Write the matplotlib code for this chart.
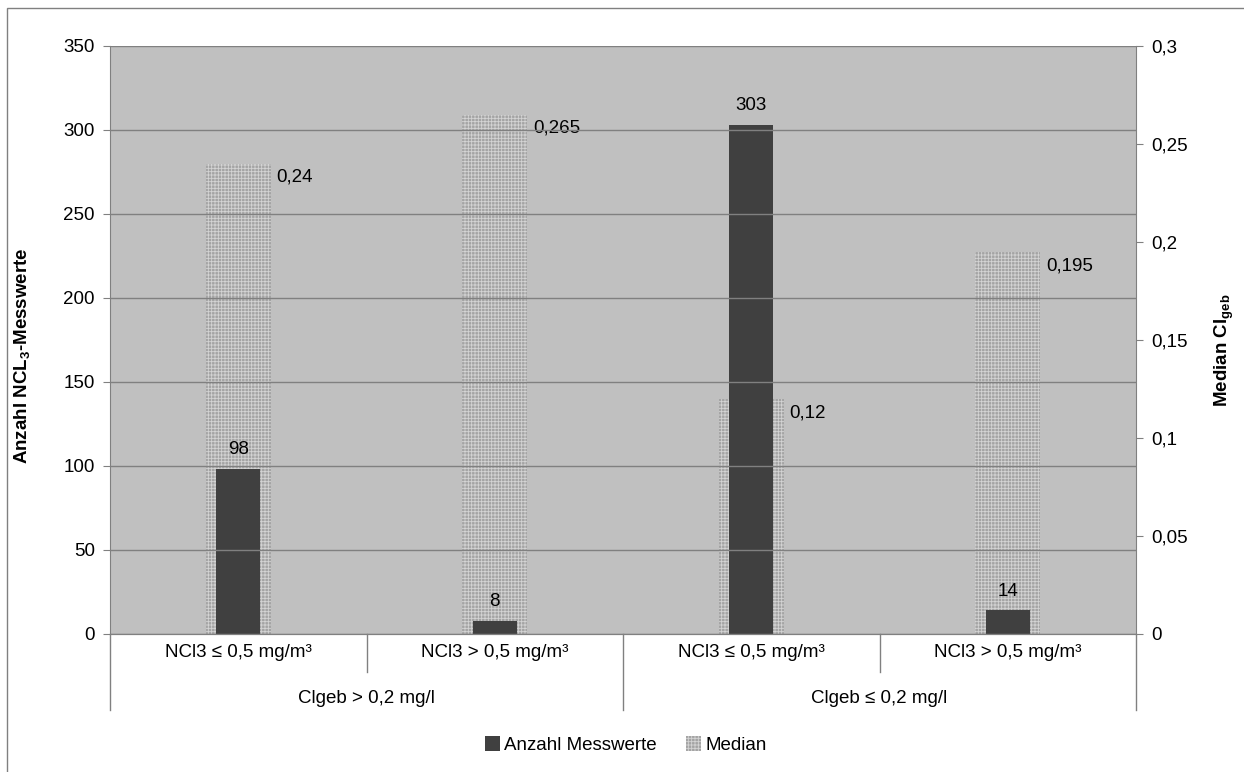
import matplotlib.pyplot as plt
from matplotlib.patches import Rectangle
from matplotlib.ticker import FixedLocator

plt.rcParams['font.family'] = ['Liberation Sans', 'DejaVu Sans']
plt.rcParams['hatch.linewidth'] = 0.6

# data
sub_labels = ["NCl3 \u2264 0,5 mg/m\u00b3", "NCl3 > 0,5 mg/m\u00b3",
              "NCl3 \u2264 0,5 mg/m\u00b3", "NCl3 > 0,5 mg/m\u00b3"]
group_labels = ["Clgeb > 0,2 mg/l", "Clgeb \u2264 0,2 mg/l"]
anzahl = [98, 8, 303, 14]
median = [0.24, 0.265, 0.12, 0.195]
median_txt = ["0,24", "0,265", "0,12", "0,195"]

left_ticks = [0, 50, 100, 150, 200, 250, 300, 350]
right_ticks = [0, 0.05, 0.1, 0.15, 0.2, 0.25, 0.3]
right_ticklabels = ["0", "0,05", "0,1", "0,15", "0,2", "0,25", "0,3"]

x = list(range(len(anzahl)))
fs = 13.5

fig = plt.figure(figsize=(12.44, 7.72), dpi=100)
ax = fig.add_axes([110/1244, 1 - 634/772, 1026/1244, 588/772])
ax2 = ax.twinx()

# counts axis drawn on top, median bars behind it
ax.set_zorder(ax2.get_zorder() + 1)
ax.patch.set_visible(False)
ax2.patch.set_visible(True)
ax2.set_facecolor('#c0c0c0')

grey = '#808080'

b2 = ax2.bar(x, median, width=0.255, color='#a4a4a4', edgecolor='#d4d4d4',
             hatch='+++++', linewidth=0, label='Median')
b1 = ax.bar(x, anzahl, width=0.17, color='#404040', linewidth=0,
            label='Anzahl Messwerte')

for xi, v in zip(x, anzahl):
    ax.annotate(str(v), (xi, v), xytext=(0, 14), textcoords='offset points',
                ha='center', va='center', fontsize=fs)
for xi, v, t in zip(x, median, median_txt):
    ax2.annotate(t, (xi + 0.1275, v), xytext=(4, -10), textcoords='offset points',
                 ha='left', va='center', fontsize=fs)

ax.set_xlim(-0.5, 3.5)
ax.set_ylim(0, 350)
ax2.set_ylim(0, 0.3)
ax.yaxis.set_major_locator(FixedLocator(left_ticks))
ax.set_yticklabels([str(t) for t in left_ticks])
ax2.yaxis.set_major_locator(FixedLocator(right_ticks))
ax2.set_yticklabels(right_ticklabels)

ax.grid(axis='y', color=grey, linewidth=1)
ax.set_xticks([])

for a in (ax, ax2):
    for s in a.spines.values():
        s.set_color(grey)
    a.spines['top'].set_visible(False)
    a.tick_params(axis='y', direction='out', length=5, color=grey,
                  labelsize=fs, pad=6)
ax.spines['right'].set_visible(False)
ax2.spines['left'].set_visible(False)

ax.set_ylabel("Anzahl NCL$_\\mathregular{3}$-Messwerte", fontsize=fs,
              fontweight='bold')
ax.yaxis.set_label_coords(-0.075, 0.474)
ax2.set_ylabel("Median Cl$_\\mathregular{geb}$", fontsize=fs,
               fontweight='bold')
ax2.yaxis.set_label_coords(1.075, 0.483)

# two-level category axis
trans = ax.get_xaxis_transform()
for xi, lab in zip(x, sub_labels):
    ax.text(xi, -0.032, lab, transform=trans, ha='center', va='center', fontsize=fs)
for g, lab in enumerate(group_labels):
    ax.text(2 * g + 0.5, -0.11, lab, transform=trans, ha='center', va='center',
            fontsize=fs)
for xs in (0.5, 2.5):
    ax.plot([xs, xs], [0, -0.065], transform=trans, color=grey, lw=1, clip_on=False)
for xs in (-0.5, 1.5, 3.5):
    ax.plot([xs, xs], [0, -0.129], transform=trans, color=grey, lw=1, clip_on=False)

fig.legend([b1, b2], ['Anzahl Messwerte', 'Median'], loc='center',
           bbox_to_anchor=(0.503, 1 - 745/772), ncol=2, frameon=False,
           fontsize=fs, handlelength=0.8, handleheight=0.8, columnspacing=1.6,
           handletextpad=0.2)

# chart border
fig.patches.append(Rectangle((7/1244, -0.05), 1.1, 1 - 8/772 + 0.05,
                             transform=fig.transFigure, fill=False,
                             edgecolor=grey, linewidth=1))

fig.savefig('out.png', dpi=100, facecolor='white')
